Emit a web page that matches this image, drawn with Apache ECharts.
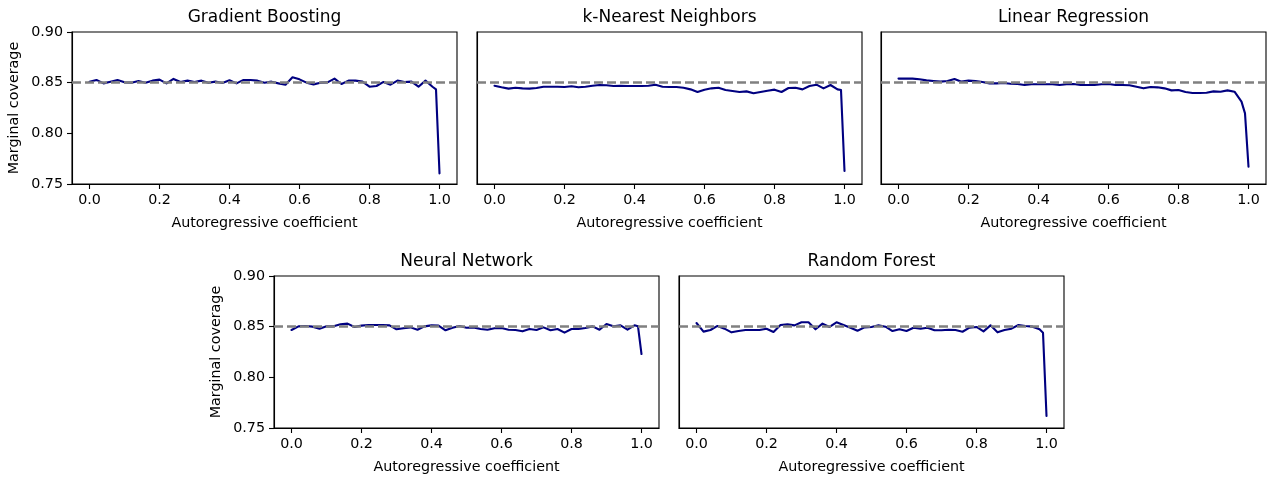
<!DOCTYPE html>
<html>
<head>
<meta charset="utf-8">
<script src="https://cdn.jsdelivr.net/npm/echarts@6/dist/echarts.min.js"></script>
<style>
html,body{margin:0;padding:0;background:#fff;}
#chart{width:1270px;height:482px;}
</style>
</head>
<body>
<div id="chart"></div>
<script>
const xValues = [0.00,0.02,0.04,0.06,0.08,0.10,0.12,0.14,0.16,0.18,
  0.20,0.22,0.24,0.26,0.28,0.30,0.32,0.34,0.36,0.38,
  0.40,0.42,0.44,0.46,0.48,0.50,0.52,0.54,0.56,0.58,
  0.60,0.62,0.64,0.66,0.68,0.70,0.72,0.74,0.76,0.78,
  0.80,0.82,0.84,0.86,0.88,0.90,0.92,0.94,0.96,0.98,0.99,1.00];

const xTicks = [0.0,0.2,0.4,0.6,0.8,1.0];
const yTicks = [0.75,0.80,0.85,0.90];
const targetCoverage = 0.85;

const titles = ['Gradient Boosting','k-Nearest Neighbors','Linear Regression','Neural Network','Random Forest'];

const gradientBoosting = [0.851,0.8527,0.8493,0.851,0.8527,0.8503,0.850,0.8517,0.850,0.852,
  0.853,0.8493,0.8537,0.8507,0.852,0.8507,0.852,0.850,0.851,0.8497,
  0.8523,0.8493,0.8527,0.8527,0.852,0.850,0.851,0.8493,0.848,0.8553,
  0.8533,0.850,0.8483,0.850,0.8503,0.854,0.8487,0.852,0.852,0.851,
  0.846,0.8467,0.8507,0.848,0.852,0.8507,0.851,0.846,0.852,0.846,0.8434,0.7605];

const kNearestNeighbors = [0.847,0.8454,0.8441,0.845,0.8444,0.8441,0.8447,0.846,0.846,0.846,
  0.8457,0.8464,0.8454,0.846,0.847,0.8477,0.8474,0.8467,0.847,0.8467,
  0.8467,0.8467,0.847,0.848,0.846,0.8457,0.8457,0.845,0.8434,0.8408,
  0.8431,0.8444,0.845,0.8428,0.8418,0.8408,0.8414,0.8395,0.8408,0.8421,
  0.8431,0.8408,0.8447,0.845,0.8434,0.8467,0.848,0.8444,0.8477,0.8434,0.8428,0.7628];

const linearRegression = [0.854,0.854,0.854,0.8533,0.8523,0.8516,0.851,0.8516,0.8536,0.851,
  0.852,0.8516,0.8507,0.8493,0.8493,0.8497,0.849,0.8487,0.8477,0.8484,
  0.8484,0.8484,0.8484,0.8477,0.8484,0.8487,0.8477,0.8477,0.8477,0.8484,
  0.8487,0.8477,0.8477,0.8474,0.846,0.8444,0.8457,0.8454,0.8444,0.8424,
  0.8428,0.8408,0.8398,0.8398,0.8401,0.8414,0.8411,0.8424,0.8411,0.8313,0.8197,0.767];

const neuralNetwork = [0.8467,0.8503,0.8507,0.85,0.848,0.8503,0.8503,0.8523,0.853,0.8497,
  0.851,0.8516,0.8516,0.8516,0.8513,0.8474,0.8484,0.8493,0.847,0.8503,
  0.8513,0.851,0.8464,0.849,0.8507,0.849,0.8493,0.8477,0.847,0.8484,
  0.8487,0.847,0.8467,0.8454,0.8477,0.8467,0.8493,0.8464,0.8477,0.8441,
  0.8477,0.8477,0.8487,0.8503,0.847,0.8526,0.8503,0.8513,0.847,0.8513,0.8503,0.823];

const randomForest = [0.8536,0.8451,0.8467,0.8507,0.848,0.8444,0.8457,0.8467,0.8467,0.8467,
  0.848,0.8447,0.8516,0.8523,0.8513,0.8543,0.8543,0.8474,0.853,0.8497,
  0.8543,0.8516,0.849,0.846,0.8493,0.8497,0.8513,0.85,0.8457,0.8474,
  0.8457,0.849,0.848,0.849,0.8464,0.8464,0.847,0.8467,0.845,0.849,
  0.8497,0.8454,0.8513,0.8444,0.8467,0.848,0.8516,0.8507,0.85,0.8474,0.8441,0.7618];

const seriesValues = [gradientBoosting,kNearestNeighbors,linearRegression,neuralNetwork,randomForest];

// layout (pixel boxes of each panel)
const W = 385, H = 152;
const panels = [
  {left:72, top:32, ylab:true},
  {left:477, top:32, ylab:false},
  {left:881, top:32, ylab:false},
  {left:274, top:276, ylab:true},
  {left:679, top:276, ylab:false}
];

const FONT = 'DejaVu Sans';
const FS = 14.3;
const chart = echarts.init(document.getElementById('chart'), null, {renderer:'canvas'});

const grids = [], xAxes = [], yAxes = [], series = [], graphics = [];
panels.forEach((p, i) => {
  grids.push({left:p.left, top:p.top, width:W, height:H, show:true, borderColor:'#000', borderWidth:1.1, backgroundColor:'transparent', containLabel:false});
  xAxes.push({
    type:'value', gridIndex:i, min:-0.05, max:1.05,
    name:'Autoregressive coefficient', nameLocation:'middle', nameGap:32,
    nameTextStyle:{fontFamily:FONT, fontSize:FS, color:'#000'},
    axisLine:{show:true, onZero:false, lineStyle:{color:'#000', width:1.1}},
    axisTick:{show:true, length:5, customValues:xTicks, lineStyle:{color:'#000', width:1.1}},
    axisLabel:{show:true, customValues:xTicks, margin:9, fontFamily:FONT, fontSize:FS, color:'#000', formatter:v => v.toFixed(1)},
    splitLine:{show:false}
  });
  yAxes.push({
    type:'value', gridIndex:i, min:0.75, max:0.90,
    name: p.ylab ? 'Marginal coverage' : '', nameLocation:'middle', nameGap:51,
    nameTextStyle:{fontFamily:FONT, fontSize:FS, color:'#000'},
    axisLine:{show:true, onZero:false, lineStyle:{color:'#000', width:1.1}},
    axisTick:{show:p.ylab, length:5, customValues:yTicks, lineStyle:{color:'#000', width:1.1}},
    axisLabel:{show:p.ylab, customValues:yTicks, margin:9, fontFamily:FONT, fontSize:FS, color:'#000', formatter:v => v.toFixed(2)},
    splitLine:{show:false}
  });
  series.push({
    type:'line', xAxisIndex:i, yAxisIndex:i, z:2,
    data: xValues.map((x, k) => [x, seriesValues[i][k]]),
    showSymbol:false, symbol:'none',
    lineStyle:{color:'#000080', width:2.1, join:'round', cap:'round'},
    animation:false,
    markLine:{
      silent:true, symbol:['none','none'], animation:false, z:5,
      label:{show:false},
      lineStyle:{color:'#808080', width:2.5, type:[9,4], opacity:1},
      emphasis:{disabled:true},
      data:[{yAxis:targetCoverage}]
    }
  });
  graphics.push({
    type:'text', x:p.left + W/2, y:p.top - 14.5,
    style:{text:titles[i], font:'17px "' + FONT + '"', fill:'#000', align:'center', verticalAlign:'middle'}
  });
});

chart.setOption({
  animation:false,
  backgroundColor:'#fff',
  grid:grids, xAxis:xAxes, yAxis:yAxes, series:series,
  graphic:graphics
});
</script>
</body>
</html>
